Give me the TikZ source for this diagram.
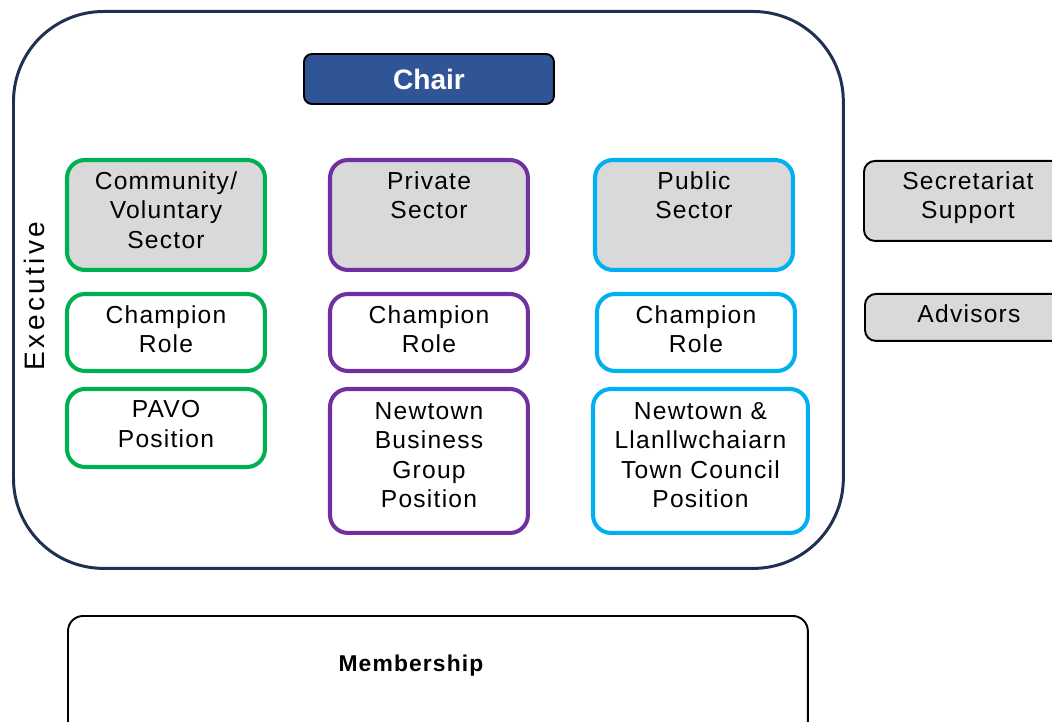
\documentclass[tikz,border=0pt]{standalone}
\usepackage{fontspec}
\setmainfont{Liberation Sans}
\newfontfamily\boxfont[LetterSpace=5]{Liberation Sans}
\newfontfamily\execfont[LetterSpace=12]{Liberation Sans}
\usetikzlibrary{positioning}
\definecolor{navy}{HTML}{1F3050}
\definecolor{chairblue}{HTML}{2F5597}
\definecolor{cvgreen}{HTML}{00B050}
\definecolor{pspurple}{HTML}{7030A0}
\definecolor{pubcyan}{HTML}{00B0F0}
\definecolor{boxgray}{HTML}{D9D9D9}
\tikzset{
	sector/.style={draw=#1, line width=2.3pt, rounded corners=0.36cm, anchor=north west, inner sep=0pt, outer sep=0pt},
	side/.style={draw=black, line width=1.1pt, rounded corners=0.22cm, fill=boxgray, anchor=north west, inner sep=0pt},
	txt/.style={font=\boxfont\fontsize{14}{16.8}\selectfont, align=center, anchor=north, inner sep=0pt}
}

\begin{document}
\begin{tikzpicture}[x=0.02cm, y=-0.02cm]
		\useasboundingbox (0,0) rectangle (1052,722);
		\clip (0,0) rectangle (1052,722);
		% executive frame
		\node[draw=navy, line width=1.7pt, rounded corners=1.8cm, minimum width=16.6cm, minimum height=11.14cm, anchor=north west, inner sep=0pt, outer sep=0pt] (exec) at (13.5,11.5) {};
		\node[font=\execfont\fontsize{16}{18}\selectfont, rotate=90] (execlbl) at (34,296) {Executive};
		\node[draw=black, line width=1.1pt, fill=chairblue, rounded corners=0.16cm, minimum width=5.0cm, minimum height=1.0cm, anchor=north west, outer sep=0pt, text=white, font=\bfseries\fontsize{16}{18}\selectfont] (chair) at (304,54) {Chair};
		% community / voluntary column
		\node[sector=cvgreen, fill=boxgray, minimum width=3.96cm, minimum height=2.2cm] (cv) at (67,160) {};
		\node[sector=cvgreen, minimum width=3.96cm, minimum height=1.54cm] (cvrole) at (67,294) {};
		\node[sector=cvgreen, minimum width=3.96cm, minimum height=1.56cm] (pavo) at (67,389) {};
		% private column
		\node[sector=pspurple, fill=boxgray, minimum width=3.96cm, minimum height=2.2cm] (priv) at (330,160) {};
		\node[sector=pspurple, minimum width=3.96cm, minimum height=1.54cm] (privrole) at (330,294) {};
		\node[sector=pspurple, minimum width=3.96cm, minimum height=2.88cm] (nbg) at (330,389) {};
		% public column
		\node[sector=pubcyan, fill=boxgray, minimum width=3.96cm, minimum height=2.2cm] (pub) at (595,160) {};
		\node[sector=pubcyan, minimum width=3.96cm, minimum height=1.54cm] (pubrole) at (597,294) {};
		\node[sector=pubcyan, minimum width=4.3cm, minimum height=2.88cm] (ntc) at (593,389) {};
		% texts
		\node[txt, below=0.22cm of cv.north] (cvt) {Community/\\Voluntary\\Sector};
		\node[txt, below=0.22cm of cvrole.north] (cvrolet) {Champion\\Role};
		\node[txt, below=0.22cm of pavo.north] (pavot) {PAVO\\Position};
		\node[txt, below=0.22cm of priv.north] (privt) {Private\\Sector};
		\node[txt, below=0.22cm of privrole.north] (privrolet) {Champion\\Role};
		\node[txt, below=0.26cm of nbg.north] (nbgt) {Newtown\\Business\\Group\\Position};
		\node[txt, below=0.22cm of pub.north] (pubt) {Public\\Sector};
		\node[txt, below=0.22cm of pubrole.north] (pubrolet) {Champion\\Role};
		\node[txt, below=0.26cm of ntc.north] (ntct) {Newtown \&\\Llanllwchaiarn\\Town Council\\Position};
		% side boxes
		\node[side, minimum width=4.4cm, minimum height=1.6cm] (sec) at (863,160) {};
		\node[txt, below=0.22cm of sec.north, xshift=-0.12cm] (sect) {Secretariat\\Support};
		\node[side, minimum width=4.4cm, minimum height=0.94cm] (adv) at (864,293) {};
		\node[txt, below=0.22cm of adv.north, xshift=-0.12cm] (advt) {Advisors};
		% membership
		\node[draw=black, line width=1.1pt, rounded corners=0.3cm, minimum width=14.8cm, minimum height=2.8cm, anchor=north west, inner sep=0pt, outer sep=0pt] (memb) at (68,616) {};
		\node[font=\boxfont\bfseries\fontsize{13}{15}\selectfont, anchor=center] (membt) at (411,666) {Membership};
	\end{tikzpicture}
\end{document}
